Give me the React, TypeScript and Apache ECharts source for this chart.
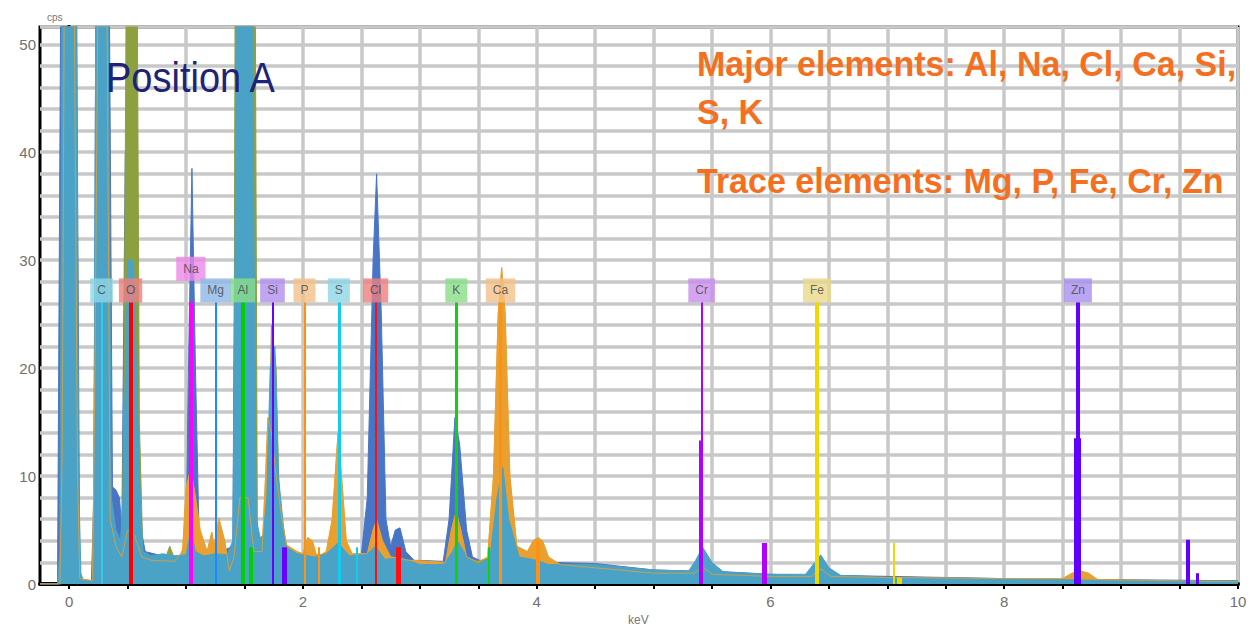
import React, { useEffect, useRef } from "react";
import * as echarts from "echarts";

// ---------- axes ----------
const X_MIN = -0.25;
const X_MAX = 10.0;
const Y_MAX = 51.6;
const xTickValues = [0, 0.5, 1, 1.5, 2, 2.5, 3, 3.5, 4, 4.5, 5, 5.5, 6, 6.5, 7, 7.5, 8, 8.5, 9, 9.5, 10];
const xLabelValues = [0, 2, 4, 6, 8, 10];
const yLabelValues = [0, 10, 20, 30, 40, 50];

// ---------- spectra (keV, cps) ----------
const blueSpectrum: [number, number][] = [
  [-0.25, 0], [-0.1, 0], [-0.07, 60], [0.06, 60], [0.09, 1], [0.12, 0.3], [0.19, 0.3], [0.21, 8], [0.23, 60],
  [0.34, 60], [0.37, 9], [0.4, 8.7], [0.43, 8], [0.45, 5], [0.48, 40], [0.56, 40], [0.6, 6], [0.65, 3],
  [0.8, 2.6], [0.95, 2.6], [1.0, 4], [1.02, 20], [1.05, 38.5], [1.08, 20], [1.11, 5], [1.15, 3], [1.3, 3],
  [1.4, 3.5], [1.43, 60], [1.57, 60], [1.6, 5], [1.65, 3], [1.7, 6], [1.74, 16], [1.78, 8], [1.85, 3.5],
  [2.0, 2.5], [2.2, 2.8], [2.3, 4], [2.4, 2.6], [2.5, 2.8], [2.55, 8], [2.6, 30], [2.63, 38], [2.67, 25],
  [2.71, 6], [2.75, 3.5], [2.79, 5], [2.83, 5.2], [2.88, 3], [2.95, 2.2], [3.2, 2.1], [3.25, 6], [3.3, 15.4],
  [3.34, 13], [3.4, 5], [3.45, 2.5], [3.55, 2], [3.62, 3], [3.66, 8], [3.7, 9], [3.76, 5], [3.85, 2.4],
  [4.0, 2.5], [4.1, 2], [4.5, 1.9], [5.0, 1.3], [5.33, 1.2], [5.42, 2.6], [5.5, 1.2], [6.0, 0.9], [6.33, 0.8],
  [6.43, 2.2], [6.55, 0.8], [8.0, 0.5], [10.0, 0.3],
];

const orangeSpectrum: [number, number][] = [
  [-0.25, 0], [-0.08, 0], [-0.06, 12], [-0.04, 60], [0.04, 60], [0.07, 11], [0.09, 0.5], [0.2, 0.3],
  [0.22, 20], [0.25, 60], [0.32, 60], [0.35, 6], [0.4, 3.5], [0.45, 2.5], [0.5, 5], [0.56, 4.5], [0.62, 2.5],
  [0.7, 2.2], [0.9, 2.1], [0.97, 3], [1.0, 8.9], [1.04, 10.7], [1.08, 8], [1.12, 5], [1.18, 3], [1.22, 4.8],
  [1.24, 3.5], [1.28, 6.1], [1.33, 4], [1.37, 1.2], [1.41, 2.5], [1.46, 8], [1.53, 8], [1.58, 3],
  [1.65, 3], [1.68, 10], [1.7, 15.4], [1.73, 14], [1.77, 10], [1.82, 6], [1.86, 3.6], [1.95, 3],
  [2.0, 2.8], [2.04, 4.3], [2.08, 4], [2.12, 2.5], [2.2, 3], [2.25, 6], [2.3, 14], [2.33, 10], [2.37, 4],
  [2.42, 2.8], [2.55, 2.8], [2.6, 5], [2.63, 5.9], [2.68, 4], [2.75, 2.5], [2.9, 2.2], [3.22, 2], [3.27, 5],
  [3.31, 6.7], [3.35, 5], [3.4, 2.5], [3.5, 2], [3.58, 2.5], [3.63, 10], [3.67, 25], [3.7, 29.3], [3.73, 25],
  [3.77, 10], [3.83, 3.5], [3.92, 3], [3.97, 4], [4.01, 4.3], [4.05, 4], [4.1, 2.5], [4.2, 1.8], [4.5, 1.5],
  [5.0, 1.0], [5.35, 1.0], [5.42, 1.6], [5.5, 0.9], [6.0, 0.7], [6.35, 0.7], [6.43, 1.4], [6.52, 0.7],
  [7.0, 0.6], [8.0, 0.5], [8.5, 0.5], [8.58, 1], [8.65, 1.2], [8.72, 1], [8.8, 0.4], [10.0, 0.2],
];

const oliveSpectrum: [number, number][] = [
  [-0.25, 0], [-0.06, 0], [-0.04, 8], [0.04, 8], [0.06, 0], [0.2, 0.3], [0.25, 6], [0.32, 6], [0.4, 2.5],
  [0.45, 2], [0.47, 20], [0.49, 60], [0.58, 60], [0.6, 15], [0.63, 3], [0.75, 2.2], [0.83, 2.6], [0.86, 3.5],
  [0.9, 2.4], [1.0, 2.3], [1.2, 2.0], [1.41, 3], [1.42, 60], [1.59, 60], [1.61, 4], [1.7, 5], [1.73, 24],
  [1.77, 20], [1.8, 6], [1.9, 1.8], [2.3, 2.2], [2.6, 1.6], [3.0, 1.3], [3.7, 2.5], [4.0, 1.2], [5.0, 0.9],
  [6.0, 0.6], [8.0, 0.4], [10.0, 0.2],
];

const tealSpectrum: [number, number][] = [
  [-0.25, 0], [-0.1, 0], [-0.08, 3], [-0.06, 60], [0.06, 60], [0.08, 10], [0.1, 1], [0.12, 0.3], [0.2, 0.3],
  [0.21, 5], [0.23, 60], [0.33, 60], [0.36, 8], [0.4, 5], [0.44, 4], [0.46, 8], [0.5, 30], [0.55, 30],
  [0.6, 10], [0.63, 3], [0.7, 2.6], [0.8, 2.8], [0.9, 2.6], [1.0, 2.7], [1.04, 5], [1.08, 3], [1.15, 2.6],
  [1.25, 2.8], [1.35, 2.7], [1.4, 4], [1.44, 60], [1.56, 60], [1.6, 6], [1.65, 3.5], [1.69, 8], [1.72, 20],
  [1.76, 22], [1.79, 10], [1.85, 3.5], [1.95, 2.8], [2.1, 2.5], [2.2, 2.8], [2.3, 3.8], [2.4, 2.6],
  [2.55, 2.8], [2.62, 3.5], [2.7, 2.3], [2.85, 2.4], [3.0, 1.8], [3.2, 1.8], [3.28, 3], [3.32, 4],
  [3.4, 2.6], [3.5, 1.8], [3.6, 2.5], [3.66, 8], [3.71, 10.8], [3.76, 6], [3.85, 2.5], [4.0, 2.2], [4.1, 1.8],
  [4.5, 1.8], [5.0, 1.3], [5.3, 1.2], [5.36, 2.2], [5.42, 3.4], [5.5, 2], [5.6, 1.1], [6.0, 0.9], [6.3, 0.9],
  [6.38, 2], [6.43, 2.7], [6.5, 1.5], [6.6, 0.8], [7.0, 0.6], [8.0, 0.5], [9.0, 0.3], [10.0, 0.3],
];

// ---------- element markers ----------
const elementNames = ["C", "O", "Na", "Mg", "Al", "Si", "P", "S", "Cl", "K", "Ca", "Cr", "Fe", "Zn"];
const elementEnergies = [0.277, 0.525, 1.041, 1.253, 1.486, 1.739, 2.013, 2.307, 2.621, 3.312, 3.69, 5.411, 6.398, 8.63];
const elementLabelLevels = [27.2, 27.2, 29.2, 27.2, 27.2, 27.2, 27.2, 27.2, 27.2, 27.2, 27.2, 27.2, 27.2, 27.2];
const elementLineTop = 26.1;
const elementLineColors = ["#30CCE8", "#FF0000", "#FF00FF", "#1E88FF", "#00D000", "#6A00FF", "#FF9010", "#10CCEE", "#FF1010", "#10D010", "#FF9010", "#B000FF", "#F0D800", "#6000FF"];
const elementLineWidths = [2, 4, 4, 2, 4, 2, 2, 3, 2, 3, 3, 2, 4, 4];
const elementBoxColors = ["#8ED6E6", "#EE8080", "#EE88E8", "#8DB8E8", "#88DD88", "#B08EEE", "#F2C08A", "#8ED6E6", "#EE8080", "#88DD88", "#F2C08A", "#C88EEE", "#E8D88A", "#A88EEE"];

// secondary (short) lines
const minorEnergies = [1.557, 1.836, 2.139, 2.464, 2.815, 3.589, 4.012, 5.405, 5.946, 7.057, 7.1, 8.625, 9.572, 9.65];
const minorHeights = [3.4, 3.4, 3.4, 3.4, 3.4, 3.4, 4.0, 13.3, 3.8, 3.8, 0.6, 13.5, 4.1, 1.0];
const minorColors = ["#00D000", "#6A00FF", "#FF9010", "#10CCEE", "#FF1010", "#10D010", "#FF9010", "#B000FF", "#B000FF", "#F0D800", "#F0D800", "#6000FF", "#6000FF", "#6000FF"];
const minorWidths = [4, 5, 2, 2, 5, 2, 4, 4, 5, 2, 5, 7, 4, 3];

const spectrumSeries = (name: string, data: [number, number][], color: string, z: number) => ({
  name,
  type: "line",
  data,
  showSymbol: false,
  symbol: "none",
  clip: true,
  z,
  lineStyle: { color, width: 1 },
  areaStyle: { color, opacity: 1 },
  silent: true,
});

export default function App() {
  const ref = useRef<HTMLDivElement>(null);
  useEffect(() => {
    if (!ref.current) return;
    const chart = echarts.init(ref.current, undefined, { renderer: "svg" });

    const markerLines: any[] = [];
    elementEnergies.forEach((e, i) => {
      markerLines.push([
        { coord: [e, 0], lineStyle: { color: elementLineColors[i], width: elementLineWidths[i], type: "solid" } },
        { coord: [e, elementLineTop] },
      ]);
    });
    minorEnergies.forEach((e, i) => {
      markerLines.push([
        { coord: [e, 0], lineStyle: { color: minorColors[i], width: minorWidths[i], type: "solid" } },
        { coord: [e, minorHeights[i]] },
      ]);
    });

    const labelData = elementNames.map((n, i) => ({
      name: n,
      value: [elementEnergies[i], elementLabelLevels[i]],
      label: { backgroundColor: elementBoxColors[i] },
    }));

    const option: any = {
      animation: false,
      backgroundColor: "#ffffff",
      grid: {
        left: 40,
        right: 17,
        top: 27,
        bottom: 46,
        show: true,
        borderColor: "#000",
        borderWidth: 3,
        backgroundColor: "#ffffff",
      },
      xAxis: {
        type: "value",
        min: X_MIN,
        max: X_MAX,
        axisLine: { show: true, onZero: false, lineStyle: { color: "#000", width: 4 } },
        axisTick: { show: true, customValues: xTickValues, length: 5, lineStyle: { color: "#000", width: 2 } },
        axisLabel: {
          customValues: xLabelValues,
          color: "#707070",
          fontSize: 15,
          margin: 10,
          fontFamily: "Liberation Sans, Arial, sans-serif",
        },
        splitLine: { show: true, lineStyle: { color: "#c8c8c8", width: 3.5 } },
      },
      yAxis: {
        type: "value",
        min: 0,
        max: Y_MAX,
        interval: 2,
        axisLine: { show: true, lineStyle: { color: "#000", width: 4 } },
        axisTick: { show: true, length: 6, lineStyle: { color: "#000", width: 2 } },
        axisLabel: {
          color: "#707070",
          fontSize: 15,
          margin: 4,
          fontFamily: "Liberation Sans, Arial, sans-serif",
          formatter: (v: number) => (yLabelValues.indexOf(v) >= 0 ? String(v) : ""),
        },
        splitLine: { show: true, lineStyle: { color: "#c8c8c8", width: 3.5 } },
      },
      series: [
        spectrumSeries("blue", blueSpectrum, "#4876C6", 2),
        spectrumSeries("orange", orangeSpectrum, "#E9A030", 3),
        spectrumSeries("olive", oliveSpectrum, "#8CA040", 4),
        spectrumSeries("teal", tealSpectrum, "#4AA3C6", 5),
        {
          name: "orange-trace",
          type: "line",
          data: orangeSpectrum,
          showSymbol: false,
          symbol: "none",
          z: 6,
          silent: true,
          lineStyle: { color: "#E9A030", width: 1, opacity: 0.8 },
        },
        {
          name: "markers",
          type: "line",
          data: [],
          z: 20,
          silent: true,
          markLine: {
            z: 20,
            silent: true,
            symbol: ["none", "none"],
            label: { show: false },
            animation: false,
            data: markerLines,
          },
        },
        {
          name: "labels",
          type: "scatter",
          data: labelData,
          symbolSize: 1,
          itemStyle: { color: "rgba(0,0,0,0)" },
          z: 21,
          silent: true,
          label: {
            show: true,
            position: "inside",
            formatter: (p: any) => p.name,
            color: "#444",
            fontSize: 12,
            lineHeight: 12,
            padding: [6, 7],
            fontFamily: "Liberation Sans, Arial, sans-serif",
          },
        },
      ],
      graphic: [
        {
          type: "text",
          x: 106,
          y: 56,
          scaleY: 1.1,
          z: 30,
          style: { text: "Position A", fill: "#1E2378", font: "38px 'Liberation Sans', Arial, sans-serif" },
        },
        {
          type: "text",
          x: 697,
          y: 40,
          scaleY: 1.05,
          z: 30,
          style: {
            text: "Major elements: Al, Na, Cl, Ca, Si,\nS, K",
            fill: "#F47020",
            font: "bold 34px 'Liberation Sans', Arial, sans-serif",
            lineHeight: 45,
          },
        },
        {
          type: "text",
          x: 697,
          y: 162,
          scaleY: 1.05,
          z: 30,
          style: {
            text: "Trace elements: Mg, P, Fe, Cr, Zn",
            fill: "#F47020",
            font: "bold 34px 'Liberation Sans', Arial, sans-serif",
          },
        },
        {
          type: "text",
          x: 47,
          y: 12,
          z: 30,
          style: { text: "cps", fill: "#777", font: "10px 'Liberation Sans', Arial, sans-serif" },
        },
        {
          type: "text",
          x: 628,
          y: 614,
          z: 30,
          style: { text: "keV", fill: "#777", font: "12px 'Liberation Sans', Arial, sans-serif" },
        },
      ],
    };
    chart.setOption(option);
    return () => chart.dispose();
  }, []);

  return <div ref={ref} style={{ position: "fixed", left: 0, top: 0, width: 1255, height: 630 }} />;
}
